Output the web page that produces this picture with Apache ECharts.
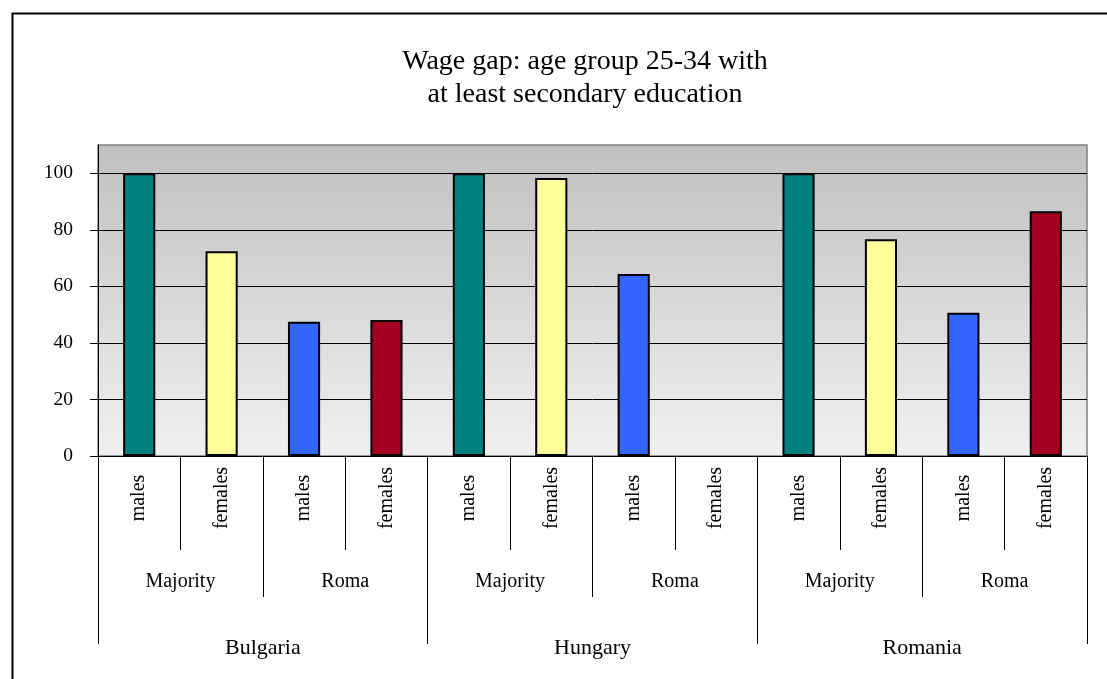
<!DOCTYPE html>
<html>
<head>
<meta charset="utf-8">
<script src="https://cdn.jsdelivr.net/npm/echarts@6/dist/echarts.min.js"></script>
<style>html,body{margin:0;padding:0;background:#fff}#c{width:1107px;height:679px}</style>
</head>
<body>
<div id="c"></div>
<script>
// ---- data ----
const countries = ['Bulgaria', 'Hungary', 'Romania'];
const groups = ['Majority', 'Roma'];
const sexes = ['males', 'females'];
const bulgaria = [100, 72.4, 47.5, 48.1];
const hungary = [100, 98.3, 64.4, null];
const romania = [100, 76.7, 50.7, 86.6];
const yTicks = [0, 20, 40, 60, 80, 100];
const titleText = 'Wage gap: age group 25-34 with\nat least secondary education';

// ---- styles ----
const barColors = { 'Majority-males': '#008080', 'Majority-females': '#FFFF99', 'Roma-males': '#3366FF', 'Roma-females': '#A50021' };
const serif = 'Liberation Serif, Times New Roman, serif';

// build category levels
const level1 = [], level2 = [], level3 = countries.slice(), values = [], colors = [];
const countryValues = [bulgaria, hungary, romania];
countries.forEach((c, ci) => {
  groups.forEach((g, gi) => {
    level2.push(g);
    sexes.forEach((s, si) => {
      level1.push(s);
      values.push(countryValues[ci][gi * 2 + si]);
      colors.push(barColors[g + '-' + s]);
    });
  });
});

const chart = echarts.init(document.getElementById('c'), null, { renderer: 'canvas' });
const tickStyle = { color: '#000', width: 1 };
const catLabel = (size, margin) => ({ interval: 0, color: '#000', fontFamily: serif, fontSize: size, margin: margin });

chart.setOption({
  animation: false,
  backgroundColor: '#fff',
  graphic: [{
    type: 'rect', left: 10, top: 11, z: -10,
    shape: { width: 1200, height: 800 },
    style: { fill: 'none', stroke: '#000', lineWidth: 2 }
  }, {
    type: 'text', x: 585, y: 45,
    style: { text: titleText, align: 'center', verticalAlign: 'top', fontFamily: serif, fontSize: 28, lineHeight: 33, fill: '#000' }
  }],
  grid: {
    left: 98, right: 20, top: 145, bottom: 223,
    show: true,
    borderColor: '#808080', borderWidth: 1.5,
    backgroundColor: new echarts.graphic.LinearGradient(0, 0, 0, 1, [
      { offset: 0, color: '#c0c0c0' },
      { offset: 1, color: '#f0f0f0' }
    ])
  },
  xAxis: [
    {
      type: 'category', position: 'bottom', data: level1,
      axisLine: { show: true, lineStyle: { color: '#000', width: 1 } },
      axisTick: { show: true, interval: 0, length: 94, lineStyle: tickStyle },
      axisLabel: Object.assign(catLabel(20, 42), { rotate: 90, align: 'center', verticalAlign: 'middle' })
    },
    {
      type: 'category', position: 'bottom', data: level2,
      axisLine: { show: false },
      axisTick: { show: true, interval: 0, length: 141, lineStyle: tickStyle },
      axisLabel: catLabel(20, 116)
    },
    {
      type: 'category', position: 'bottom', data: level3,
      axisLine: { show: false },
      axisTick: { show: true, interval: 0, length: 188, lineStyle: tickStyle },
      axisLabel: catLabel(22, 181)
    }
  ],
  yAxis: {
    type: 'value', min: yTicks[0], max: 110, interval: yTicks[1] - yTicks[0],
    axisLine: { show: true, lineStyle: { color: '#000', width: 1 } },
    axisTick: { show: true, length: 8, lineStyle: tickStyle },
    axisLabel: { showMaxLabel: false, color: '#000', fontFamily: serif, fontSize: 19.5, margin: 25, padding: [3, 0, 0, 0] },
    splitLine: { show: true, showMaxLine: false, lineStyle: { color: '#000', width: 1 } }
  },
  series: [{
    type: 'bar',
    xAxisIndex: 0,
    barWidth: '39%',
    data: values.map((v, i) => ({ value: v, itemStyle: { color: colors[i] } })),
    itemStyle: { borderColor: '#000', borderWidth: 2 }
  }]
});
</script>
</body>
</html>
